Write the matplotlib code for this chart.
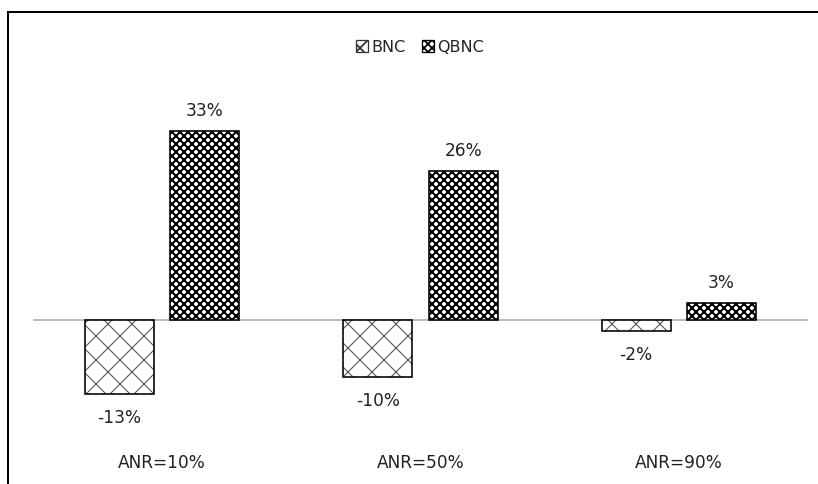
import numpy as np
import matplotlib.pyplot as plt
from matplotlib.patches import Rectangle, Patch

categories = ["ANR=10%", "ANR=50%", "ANR=90%"]
bnc = [-13, -10, -2]
qbnc = [33, 26, 3]

DPI = 72
W, H = 818, 484

plt.rcParams['font.family'] = 'DejaVu Sans'

fig = plt.figure(figsize=(W / DPI, H / DPI), dpi=DPI)
# plot area in pixels: x 33..808, y 80..440 from top
ax = fig.add_axes([33 / W, (H - 440) / H, 775 / W, 360 / H])

x = np.arange(len(categories))
width = 0.267
off = 0.165

# BNC: grey cross hatch
plt.rcParams['hatch.linewidth'] = 1.1
ax.bar(x - off, bnc, width, color='white', edgecolor='#555555',
       hatch='x', linewidth=0)
ax.bar(x - off, bnc, width, fill=False, edgecolor='black', linewidth=1.6)

# QBNC: dense black checker-like hatch
plt.rcParams['hatch.linewidth'] = 2.0
ax.bar(x + off, qbnc, width, color='white', edgecolor='black',
       hatch='xxx', linewidth=0)
ax.bar(x + off, qbnc, width, fill=False, edgecolor='black', linewidth=1.6)

ax.axhline(0, color='#a6a6a6', linewidth=1.5, zorder=0)

for xs, vals in ((x - off, bnc), (x + off, qbnc)):
    for xi, v in zip(xs, vals):
        dy = 20 if v >= 0 else -24
        ax.annotate(f"{v}%", (xi, v), xytext=(0, dy), textcoords='offset points',
                    ha='center', va='center', fontsize=17, color='#222222')

ax.set_xlim(-0.5, 2.5)
ax.set_ylim(-120 / 5.73, 240 / 5.73)
ax.set_xticks(x)
ax.set_xticklabels(categories, fontsize=17, color='#222222')
ax.tick_params(axis='x', length=0, pad=14)
ax.set_yticks([])
for s in ax.spines.values():
    s.set_visible(False)

plt.rcParams['hatch.linewidth'] = 1.1
h1 = Patch(facecolor='white', edgecolor='#333333', hatch='x', linewidth=1.3)
plt.rcParams['hatch.linewidth'] = 1.8
h2 = Patch(facecolor='white', edgecolor='black', hatch='xxx', linewidth=1.3)
fig.legend([h1, h2], ["BNC", "QBNC"], loc='center',
           bbox_to_anchor=(420 / W, 1 - 47 / H), ncol=2, frameon=False,
           fontsize=16, handlelength=0.75, handleheight=0.75,
           handletextpad=0.2, columnspacing=1.0, labelcolor='#222222')

fig.add_artist(Rectangle((8 / W, -0.1), 1.0, 1 - 12 / H + 0.1, fill=False,
                         edgecolor='black', linewidth=2,
                         transform=fig.transFigure))

fig.savefig("out.png", dpi=DPI)
